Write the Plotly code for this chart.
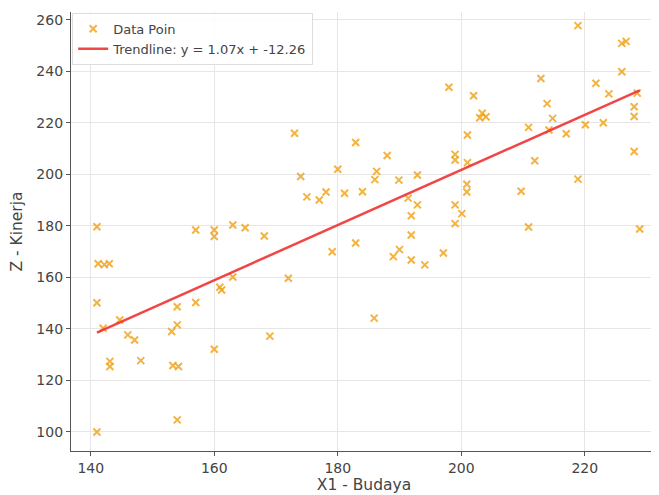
import numpy as np
import plotly.graph_objects as go

# Data
budaya = [
    141.0, 141.2, 142.2, 143.0, 141.0, 141.0, 142.0, 144.7, 146.0, 147.1,
    143.1, 143.1, 148.1, 153.1, 154.0, 154.0, 153.3, 154.2, 157.0, 160.0,
    160.9, 161.2, 163.0, 154.0, 157.0, 160.0, 160.0, 163.0, 165.0, 168.1,
    169.0, 172.0, 173.0, 174.0, 175.0, 177.0, 178.1, 179.1, 180.0, 181.1,
    182.9, 182.9, 184.0, 185.9, 186.3, 186.0, 188.0, 189.0, 190.0, 189.9,
    191.9, 192.9, 191.4, 192.9, 191.9, 191.9, 194.1, 197.1, 198.0, 199.0,
    199.0, 199.0, 200.1, 199.0, 201.0, 201.0, 200.9, 200.9, 202.0, 203.0,
    203.4, 204.0, 209.7, 210.9, 210.9, 211.9, 212.9, 213.9, 214.8, 214.2,
    217.0, 218.9, 218.9, 220.1, 221.8, 223.0, 223.9, 226.0, 226.0, 226.7,
    228.0, 228.0, 228.0, 228.5, 228.9,
]
kinerja = [
    179.7, 165.3, 165.0, 165.3, 150.2, 100.0, 140.3, 143.5, 137.7, 135.7,
    127.4, 125.4, 127.7, 139.0, 141.6, 148.6, 125.8, 125.4, 150.3, 132.1,
    156.2, 155.1, 160.2, 104.7, 178.4, 178.4, 175.9, 180.4, 179.3, 176.1,
    137.2, 159.7, 216.0, 199.2, 191.3, 190.1, 193.2, 170.0, 202.0, 192.7,
    212.4, 173.4, 193.3, 144.2, 201.2, 198.0, 207.4, 168.1, 170.8, 197.8,
    166.8, 199.8, 190.8, 188.2, 184.0, 176.5, 164.9, 169.5, 233.9, 207.8,
    205.6, 188.2, 184.8, 180.9, 215.3, 204.6, 196.2, 193.2, 230.6, 222.0,
    223.8, 222.4, 193.5, 218.3, 179.6, 205.3, 237.3, 227.5, 221.8, 217.3,
    215.8, 257.8, 198.2, 219.3, 235.4, 220.1, 231.3, 239.9, 250.9, 251.7,
    226.3, 222.5, 208.9, 231.6, 178.8,
]
slope = 1.07
intercept = -12.26

x_ticks = [140, 160, 180, 200, 220]
y_ticks = [100, 120, 140, 160, 180, 200, 220, 240, 260]

x_line = np.array([min(budaya), max(budaya)])
y_line = slope * x_line + intercept

fig = go.Figure()
fig.add_trace(go.Scatter(
    x=budaya, y=kinerja, mode="markers", name="Data Poin",
    marker=dict(symbol="x-thin", size=7,
                color="rgba(240,160,20,0.8)",
                line=dict(width=2, color="rgba(240,160,20,0.8)")),
))
fig.add_trace(go.Scatter(
    x=x_line, y=y_line, mode="lines",
    name=f"Trendline: y = {slope:.2f}x + {intercept:.2f}",
    line=dict(color="rgba(240,50,50,0.9)", width=2.5),
))

axis_common = dict(
    showgrid=True, gridcolor="#e6e6e6", gridwidth=1,
    showline=True, linecolor="#555555", linewidth=1.2,
    ticks="outside", ticklen=4, tickcolor="#555555",
    tickfont=dict(family="DejaVu Sans", size=14, color="#444444"),
    zeroline=False, automargin=False,
)

# page body has an 8px default margin; compensate in size and margins
fig.update_layout(
    width=651, height=487,
    margin=dict(l=63, r=2, t=4, b=44),
    paper_bgcolor="white", plot_bgcolor="white",
    showlegend=True,
    legend=dict(
        x=0.002, y=0.998, xanchor="left", yanchor="top",
        bgcolor="rgba(255,255,255,0.85)", bordercolor="#dddddd", borderwidth=1,
        font=dict(family="DejaVu Sans", size=13, color="#444444"),
        tracegroupgap=0, itemwidth=30,
    ),
    xaxis=dict(axis_common, range=[136.8, 231.7], tickvals=x_ticks,
               title=dict(text="X1 - Budaya", standoff=2,
                          font=dict(family="DejaVu Sans", size=15.5, color="#444444"))),
    yaxis=dict(axis_common, range=[92.6, 263.1], tickvals=y_ticks,
               title=dict(text="Z - Kinerja", standoff=10,
                          font=dict(family="DejaVu Sans", size=15.5, color="#444444"))),
)

fig.write_html("out.html")
